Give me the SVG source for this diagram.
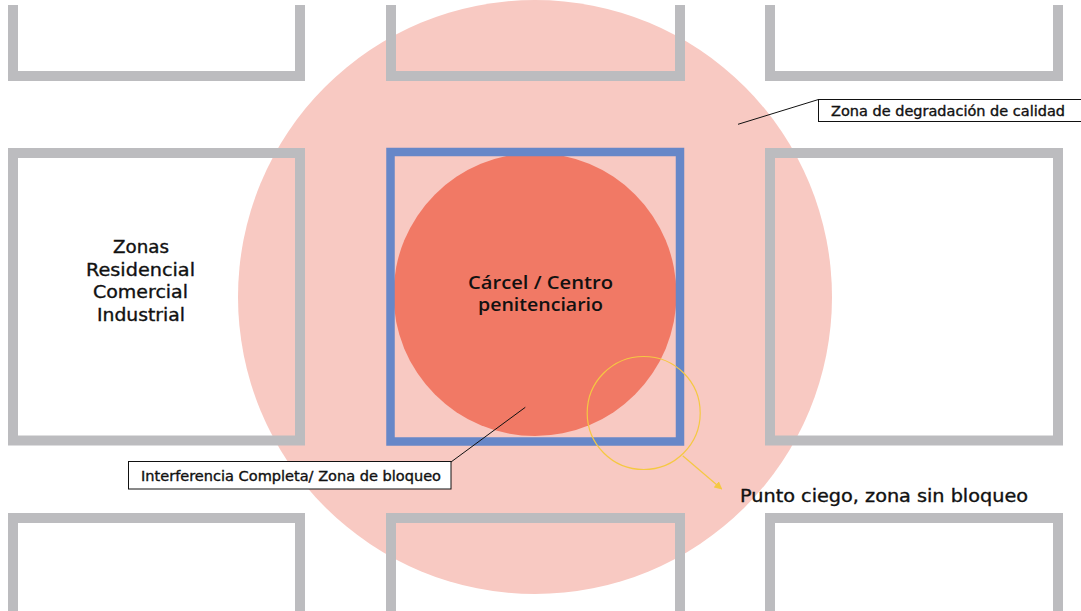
<svg xmlns="http://www.w3.org/2000/svg" width="1081" height="611" viewBox="0 0 1081 611">
<style>
.blk{fill:none;stroke:#bcbcbf;stroke-width:10}
.lbl{font-family:"DejaVu Sans","Liberation Sans",sans-serif;fill:#111;stroke:#111;stroke-width:0.35}
.ttl{font-family:"Open Sans","Liberation Sans",sans-serif;font-weight:600;fill:#111}
.box{fill:#fff;stroke:#111;stroke-width:1}
.lead{stroke:#111;stroke-width:1;fill:none}
</style>
<defs>
<marker id="ya" viewBox="0 0 10 10" refX="9" refY="5" markerWidth="8" markerHeight="8" markerUnits="userSpaceOnUse" orient="auto"><path d="M0,0 L10,5 L0,10 z" fill="#f5c842"/></marker>
</defs>
<rect width="1081" height="611" fill="#fff"/>
<g id="zona-degradacion"><circle cx="535" cy="297" r="297" fill="#f8c9c2"/></g>
<g id="zona-bloqueo"><circle cx="535" cy="294.5" r="141.5" fill="#f17965"/></g>
<g id="bloques">
<path id="b11" class="blk" d="M13,5 V76 H300 V5"/>
<path id="b12" class="blk" d="M391,5 V76 H680 V5"/>
<path id="b13" class="blk" d="M770,5 V76 H1058 V5"/>
<rect id="b21" class="blk" x="13" y="153" width="287" height="287.5"/>
<rect id="b23" class="blk" x="770" y="153" width="288" height="287.5"/>
<path id="b31" class="blk" d="M13,611 V518 H300 V611"/>
<path id="b32" class="blk" d="M391,611 V518 H680 V611"/>
<path id="b33" class="blk" d="M770,611 V518 H1058 V611"/>
</g>
<g id="carcel">
<rect x="390.5" y="152" width="289.5" height="289.5" fill="none" stroke="#6787c8" stroke-width="8.5"/>
<text class="ttl" x="468" y="288.5" font-size="18" textLength="145" lengthAdjust="spacingAndGlyphs">Cárcel / Centro</text>
<text class="ttl" x="478" y="310.5" font-size="18" textLength="125" lengthAdjust="spacingAndGlyphs">penitenciario</text>
</g>
<g id="zonas-texto">
<text class="lbl" x="113" y="253" font-size="17.5" textLength="56" lengthAdjust="spacingAndGlyphs">Zonas</text>
<text class="lbl" x="86" y="275.5" font-size="17.5" textLength="109" lengthAdjust="spacingAndGlyphs">Residencial</text>
<text class="lbl" x="93" y="298" font-size="17.5" textLength="95" lengthAdjust="spacingAndGlyphs">Comercial</text>
<text class="lbl" x="97" y="320.5" font-size="17.5" textLength="88" lengthAdjust="spacingAndGlyphs">Industrial</text>
</g>
<g id="punto-ciego">
<circle cx="643.7" cy="413" r="56.5" fill="none" stroke="#f5c842" stroke-width="1.2"/>
<text class="lbl" x="740" y="502" font-size="17.5" textLength="288" lengthAdjust="spacingAndGlyphs">Punto ciego, zona sin bloqueo</text>
</g>
<g id="label-degradacion">
<rect class="box" x="818.5" y="99.5" width="270" height="22"/>
<text class="lbl" x="831" y="116" font-size="13.5" textLength="234" lengthAdjust="spacingAndGlyphs">Zona de degradación de calidad</text>
</g>
<g id="label-interferencia">
<rect class="box" x="128.5" y="461.5" width="322.5" height="27.5"/>
<text class="lbl" x="141" y="481" font-size="13.5" textLength="300" lengthAdjust="spacingAndGlyphs">Interferencia Completa/ Zona de bloqueo</text>
</g>
<g id="connectors">
<line class="lead" x1="738" y1="124.3" x2="818.5" y2="99.5"/>
<line class="lead" x1="451" y1="462" x2="525.3" y2="407.3"/>
<line x1="682.7" y1="455.7" x2="721.7" y2="489" stroke="#f5c842" stroke-width="1.2" marker-end="url(#ya)"/>
</g>
</svg>
